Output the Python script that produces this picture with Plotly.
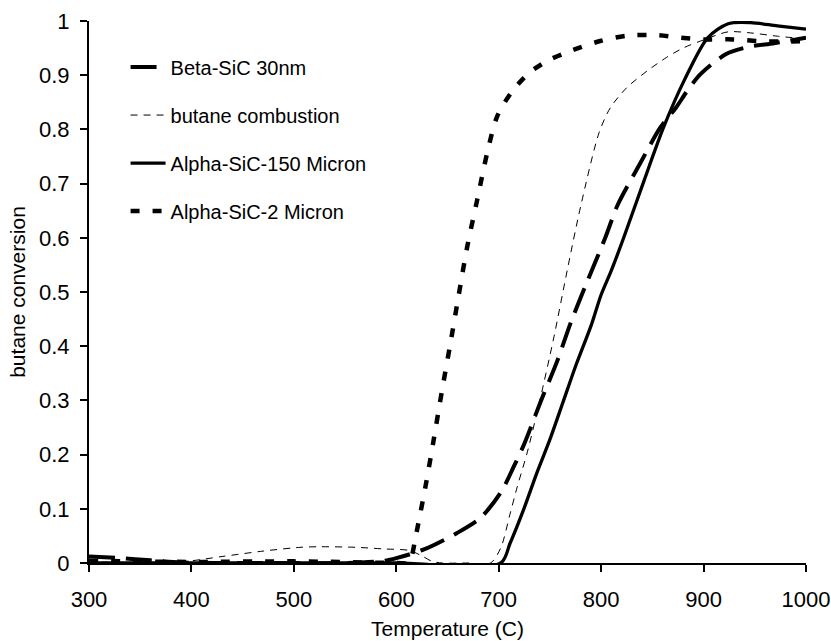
import plotly.graph_objects as go

# Butane conversion vs. temperature for three SiC samples and the blank combustion run

beta_T = [300, 330, 360, 390, 450, 500, 550, 588, 600, 627, 659, 682, 702, 715, 725,
          741, 757, 771, 787, 804, 816, 838, 858, 873, 884, 897, 922, 943, 969, 1000]
beta_conv = [0.012, 0.009, 0.005, 0.001, 0.0, 0.0, 0.0, 0.004, 0.009, 0.025, 0.055, 0.083,
             0.13, 0.179, 0.22, 0.298, 0.372, 0.447, 0.522, 0.6, 0.66, 0.737, 0.804, 0.84,
             0.871, 0.902, 0.939, 0.952, 0.959, 0.969]

blank_T = [300, 350, 390, 430, 470, 507, 526, 560, 587, 613, 625, 635, 645, 670, 692, 702,
           711, 718, 728, 741, 754, 767, 780, 798, 809, 825, 845, 864, 881, 897, 924, 946,
           972, 1000]
blank_conv = [0.002, 0.001, 0.002, 0.012, 0.022, 0.029, 0.03, 0.029, 0.026, 0.023, 0.013,
              0.003, 0.0, 0.0, 0.0, 0.028, 0.09, 0.14, 0.205, 0.307, 0.418, 0.541, 0.658,
              0.794, 0.84, 0.877, 0.908, 0.933, 0.951, 0.963, 0.98, 0.978, 0.972, 0.967]

alpha150_T = [300, 400, 500, 600, 702, 711, 724, 737, 750, 763, 776, 790, 800, 810, 822,
              842, 861, 881, 904, 924, 946, 972, 1000]
alpha150_conv = [0.0, 0.0, 0.0, 0.0, 0.0, 0.036, 0.097, 0.165, 0.228, 0.298, 0.368, 0.437,
                 0.495, 0.54, 0.6, 0.706, 0.804, 0.89, 0.969, 0.995, 0.997, 0.991, 0.985]

alpha2_T = [300, 400, 500, 600, 612, 615, 619, 628.5, 636.5, 644.7, 652.9, 661, 669.3, 679,
            688.8, 698.5, 713, 729.6, 749, 772, 799, 826, 855, 878, 900, 929, 953, 976, 1000]
alpha2_conv = [0.004, 0.002, 0.003, 0.0, 0.0, 0.012, 0.049, 0.141, 0.227, 0.319, 0.406,
               0.495, 0.584, 0.67, 0.757, 0.824, 0.87, 0.904, 0.928, 0.946, 0.963, 0.973,
               0.974, 0.969, 0.966, 0.966, 0.963, 0.962, 0.963]

FONT = "Liberation Sans, Arial, sans-serif"

series = [
    ("Beta-SiC 30nm", beta_T, beta_conv, dict(width=4, dash="26px,11px")),
    ("butane combustion", blank_T, blank_conv, dict(width=1, dash="7px,6px")),
    ("Alpha-SiC-150 Micron", alpha150_T, alpha150_conv, dict(width=3.3, dash="solid")),
    ("Alpha-SiC-2 Micron", alpha2_T, alpha2_conv, dict(width=4.5, dash="9px,13px")),
]

fig = go.Figure()
for i, (name, xs, ys, style) in enumerate(series):
    fig.add_trace(go.Scatter(
        x=xs, y=ys, name=name, mode="lines",
        line=dict(color="black", shape="spline", smoothing=0.8, **style),
        legendgroup=f"g{i}",
    ))

axis_common = dict(
    showline=True, linecolor="black", linewidth=2,
    ticks="outside", ticklen=7, tickwidth=2, tickcolor="black",
    showgrid=False, zeroline=False, mirror=False, automargin=False,
    tickfont=dict(family=FONT, size=22, color="black"),
)

fig.update_layout(
    width=831, height=641,
    margin=dict(l=89, r=25, t=21, b=78),
    paper_bgcolor="white", plot_bgcolor="white",
    font=dict(family=FONT, size=21, color="black"),
    xaxis=dict(range=[300, 1000], dtick=100, tick0=300, ticklabelstandoff=9,
               title=dict(text="Temperature (C)", font=dict(family=FONT, size=21), standoff=10),
               **axis_common),
    yaxis=dict(range=[0, 1], dtick=0.1, tick0=0, ticklabelstandoff=6,
               title=dict(text="butane conversion", font=dict(family=FONT, size=21), standoff=8),
               **axis_common),
    showlegend=True,
    legend=dict(
        x=0.051, y=0.951, xanchor="left", yanchor="top",
        bgcolor="rgba(0,0,0,0)", borderwidth=0,
        font=dict(family=FONT, size=20, color="black"),
        tracegroupgap=19, itemwidth=35,
    ),
)

fig.write_html("out.html")
